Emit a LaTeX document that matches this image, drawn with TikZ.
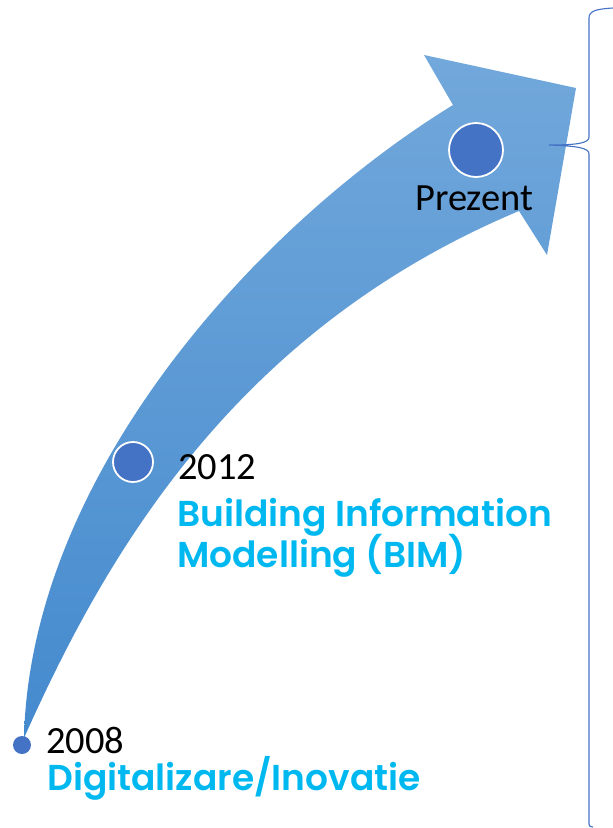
\documentclass[tikz,border=0pt]{standalone}
\usepackage{fontspec}
\setmainfont{Carlito}
\newfontfamily\gothic{Poppins}[UprightFont=* SemiBold]
\definecolor{dotblue}{RGB}{68,114,196}
\definecolor{arrowtop}{RGB}{114,168,219}
\definecolor{arrowbot}{RGB}{68,138,206}
\definecolor{cyantext}{RGB}{0,184,240}
\begin{document}
\begin{tikzpicture}[x=1pt,y=-1pt,
  milestone/.style={circle,fill=dotblue,draw=white,line width=1.8pt,inner sep=0pt},
  yeartext/.style={anchor=base west,inner sep=0pt,font=\fontsize{38.5}{40}\selectfont},
  labeltext/.style={anchor=base west,inner sep=0pt,text=cyantext,font=\gothic\fontsize{36}{41}\selectfont}]
\useasboundingbox (0,0) rectangle (613,828);
% arrow
\coordinate (tail) at (24,738);
\coordinate (on) at (453,105);
\coordinate (ob) at (424,55);
\coordinate (head) at (576,88);
\coordinate (ib) at (547,255);
\coordinate (in) at (519,211);
\shade[top color=arrowtop,bottom color=arrowbot]
  (tail) .. controls (30,480) and (250,230) .. (on)
  -- (ob) -- (head) -- (ib) -- (in)
  .. controls (235,330) and (106,554) .. (tail) -- cycle;
% brace
\coordinate (bt) at (613,8);
\coordinate (bb) at (593,827);
\coordinate (tip) at (549,145);
\draw[dotblue,line width=1.1pt]
  (bt) .. controls (596,9) and (589,11) .. (589,18)
  -- (589,137) .. controls (589,143) and (578,145) .. (tip)
  .. controls (578,146) and (589,148) .. (589,154)
  -- (589,824) .. controls (589,826) and (590,827) .. (bb);
% milestones
\node[milestone,minimum size=54pt] (p) at (476,150) {};
\node[milestone,minimum size=40pt] (m12) at (133,462) {};
\node[circle,fill=dotblue,inner sep=0pt,minimum size=18pt] (m08) at (22,745) {};
% texts
\node[yeartext] (tp) at (415,210) {Prezent};
\node[yeartext] (t12) at (178,479) {2012};
\node[yeartext] (t08) at (46,753) {2008};
\node[labeltext] (bim1) at (177,526) {Building Information};
\node[labeltext] (bim2) at (177,567) {Modelling (BIM)};
\node[labeltext] (dig) at (47,790) {Digitalizare/Inovatie};
\end{tikzpicture}
\end{document}
